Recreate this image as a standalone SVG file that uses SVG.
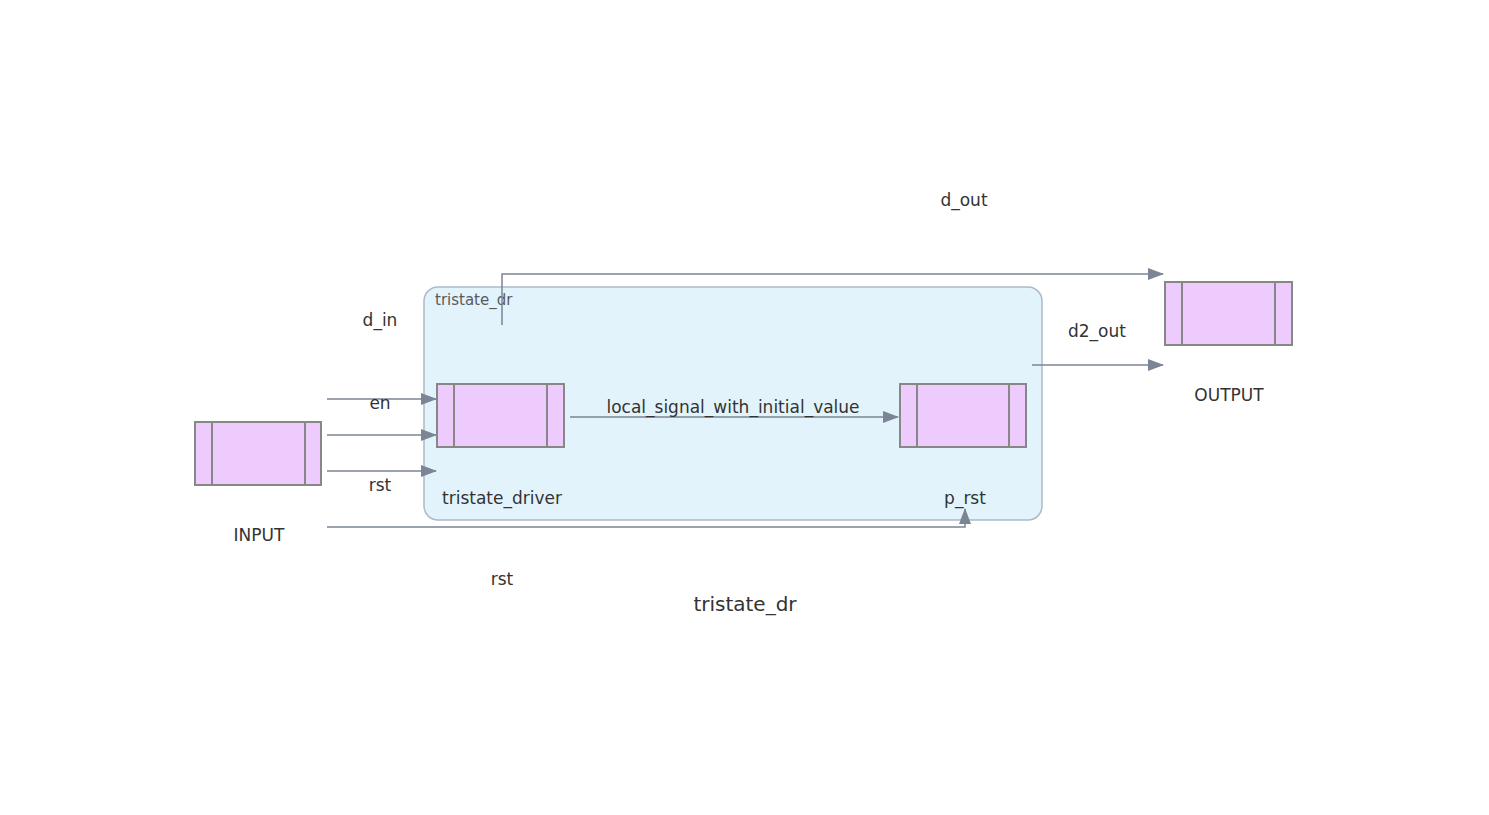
<svg xmlns="http://www.w3.org/2000/svg" width="1489" height="815" viewBox="0 0 1489 815">
<style>
.n{fill:#eecbfd;stroke:#878787;stroke-width:2}
.d{stroke:#878787;stroke-width:2;fill:none}
.e{stroke:#7b8594;stroke-width:1.5;fill:none}
text{font-family:"DejaVu Sans",sans-serif;fill:#333;text-anchor:middle}
.nl{font-size:17px}
.el{font-size:17px}
</style>
<defs>
<marker id="a" markerWidth="16" markerHeight="12" refX="15" refY="6" orient="auto" markerUnits="userSpaceOnUse">
<path d="M0,0L16,6L0,12z" fill="#7b8594"/>
</marker>
</defs>
<rect width="1489" height="815" fill="#fff"/>
<g id="cluster">
<rect x="424" y="287" width="618" height="233" rx="14" fill="#e2f3fc" stroke="#adbac7" stroke-width="1.5"/>
<text x="435" y="305" style="font-size:15px;text-anchor:start;fill:#5a5a5a">tristate_dr</text>
</g>
<g id="connectors">
<path class="e" d="M502,325V274H1163" marker-end="url(#a)"/>
<text class="el" x="964" y="206">d_out</text>
<path class="e" d="M327,399H436" marker-end="url(#a)"/>
<text class="el" x="380" y="326">d_in</text>
<path class="e" d="M327,435H436" marker-end="url(#a)"/>
<text class="el" x="380" y="409">en</text>
<path class="e" d="M327,471H436" marker-end="url(#a)"/>
<text class="el" x="380" y="491">rst</text>
<path class="e" d="M570,417H898" marker-end="url(#a)"/>
<text class="el" x="733" y="413">local_signal_with_initial_value</text>
<path class="e" d="M1032,365H1163" marker-end="url(#a)"/>
<text class="el" x="1097" y="337">d2_out</text>
<path class="e" d="M327,527H965V509" marker-end="url(#a)"/>
<text class="el" x="502" y="585">rst</text>
</g>
<g id="INPUT">
<rect class="n" x="195" y="422" width="126" height="63"/>
<path class="d" d="M212,422V485M305,422V485"/>
<text class="nl" x="259" y="541">INPUT</text>
</g>
<g id="tristate_driver">
<rect class="n" x="437" y="384" width="127" height="63"/>
<path class="d" d="M454,384V447M547,384V447"/>
<text class="nl" x="502" y="504">tristate_driver</text>
</g>
<g id="p_rst">
<rect class="n" x="900" y="384" width="126" height="63"/>
<path class="d" d="M917,384V447M1009,384V447"/>
<text class="nl" x="965" y="504">p_rst</text>
</g>
<g id="OUTPUT">
<rect class="n" x="1165" y="282" width="127" height="63"/>
<path class="d" d="M1182,282V345M1275,282V345"/>
<text class="nl" x="1229" y="401">OUTPUT</text>
</g>
<text x="745" y="611" style="font-size:20px">tristate_dr</text>
</svg>
